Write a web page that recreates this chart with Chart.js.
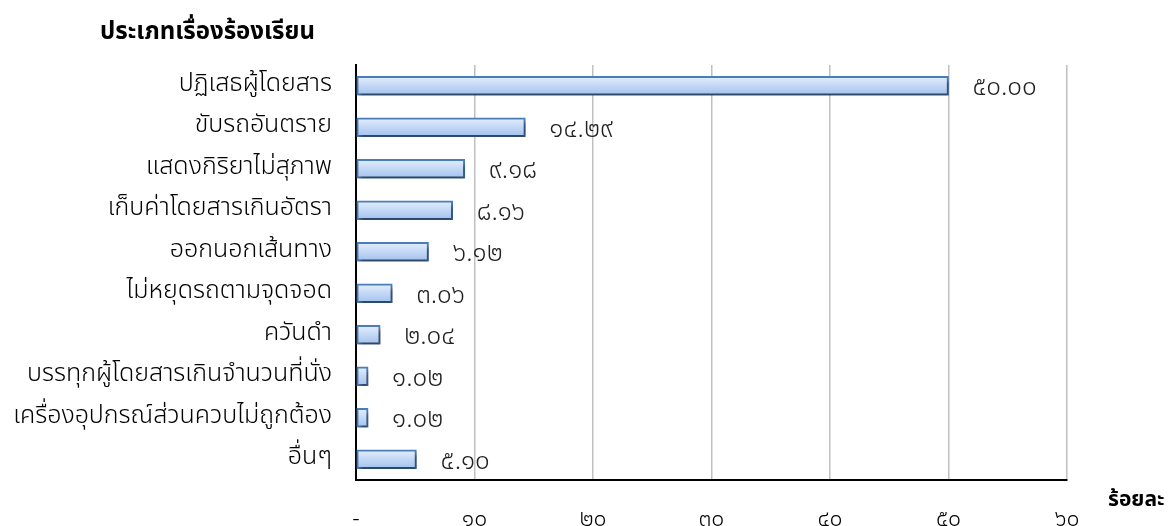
<!DOCTYPE html>
<html>
<head>
<meta charset="utf-8">
<script src="https://cdn.jsdelivr.net/npm/chart.js@4/dist/chart.umd.min.js"></script>
<style>
  html, body { margin: 0; padding: 0; background: #fff; }
  #wrap { width: 1176px; height: 526px; }
</style>
</head>
<body>
<div id="wrap"><canvas id="complaintChart" width="1176" height="526"></canvas></div>
<script>
'use strict';

const categories = [
    'ปฏิเสธผู้โดยสาร',
    'ขับรถอันตราย',
    'แสดงกิริยาไม่สุภาพ',
    'เก็บค่าโดยสารเกินอัตรา',
    'ออกนอกเส้นทาง',
    'ไม่หยุดรถตามจุดจอด',
    'ควันดำ',
    'บรรทุกผู้โดยสารเกินจำนวนที่นั่ง',
    'เครื่องอุปกรณ์ส่วนควบไม่ถูกต้อง',
    'อื่นๆ'
];
const percentValues = [50.00, 14.29, 9.18, 8.16, 6.12, 3.06, 2.04, 1.02, 1.02, 5.10];
const axisTicks = [0, 10, 20, 30, 40, 50, 60];
const yTitle = 'ประเภทเรื่องร้องเรียน';
const xTitle = 'ร้อยละ';

const thaiFont = '"Noto Sans Thai", "Noto Sans", sans-serif';
const thaiDigits = ['๐', '๑', '๒', '๓', '๔', '๕', '๖', '๗', '๘', '๙'];

const toThai = function (str) {
    return String(str).replace(/[0-9]/g, function (d) { return thaiDigits[+d]; });
};

const barFill = function (c) {
    const chart = c.chart;
    const yScale = chart.scales.y;
    if (!yScale || !chart.chartArea) return '#c5daf6';
    const mid = yScale.getPixelForValue(c.dataIndex);
    const g = chart.ctx.createLinearGradient(0, mid - 9, 0, mid + 9);
    g.addColorStop(0, '#e4eefc');
    g.addColorStop(0.45, '#c6daf6');
    g.addColorStop(1, '#a4c2ee');
    return g;
};

const barShadow = {
    id: 'barShadow',
    beforeDatasetDraw: function (chart) {
        const ctx = chart.ctx;
        ctx.save();
        ctx.shadowColor = 'rgba(0,0,0,0.45)';
        ctx.shadowBlur = 4;
        ctx.shadowOffsetX = 2;
        ctx.shadowOffsetY = 4;
    },
    afterDatasetDraw: function (chart) {
        chart.ctx.restore();
    }
};

const valueLabels = {
    id: 'valueLabels',
    afterDatasetsDraw: function (chart) {
        const ctx = chart.ctx;
        const meta = chart.getDatasetMeta(0);
        ctx.save();
        ctx.font = '300 26px ' + thaiFont;
        ctx.fillStyle = '#222';
        ctx.textAlign = 'left';
        ctx.textBaseline = 'middle';
        meta.data.forEach(function (bar, i) {
            ctx.fillText(toThai(percentValues[i].toFixed(2)), bar.x + 24, bar.y + 4);
        });
        ctx.restore();
    }
};

const axisTitles = {
    id: 'axisTitles',
    afterDraw: function (chart) {
        const ctx = chart.ctx;
        ctx.save();
        ctx.fillStyle = '#000';
        ctx.textBaseline = 'middle';
        ctx.font = 'bold 24px ' + thaiFont;
        ctx.textAlign = 'left';
        ctx.fillText(yTitle, 100, 34);
        ctx.font = 'bold 21px ' + thaiFont;
        ctx.fillText(xTitle, chart.chartArea.right + 41, 502);
        ctx.restore();
    }
};

const chartCtx = document.getElementById('complaintChart').getContext('2d');
const complaintChart = new Chart(chartCtx, {
    type: 'bar',
    data: {
        labels: categories,
        datasets: [{
            label: xTitle,
            data: percentValues,
            backgroundColor: barFill,
            borderColor: '#4a7ebb',
            borderWidth: 2,
            borderSkipped: false,
            barThickness: 19
        }]
    },
    plugins: [barShadow, valueLabels, axisTitles],
    options: {
        indexAxis: 'y',
        responsive: false,
        animation: false,
        layout: {
            padding: { top: 65, right: 109, left: 0, bottom: 0 }
        },
        plugins: {
            legend: { display: false },
            tooltip: { enabled: false }
        },
        scales: {
            x: {
                min: axisTicks[0],
                max: axisTicks[axisTicks.length - 1],
                afterBuildTicks: function (scale) {
                    scale.ticks = axisTicks.map(function (v) { return { value: v }; });
                },
                afterFit: function (scale) { scale.height = 46; },
                border: { display: true, color: '#000', width: 2 },
                grid: {
                    color: function (c) { return c.tick && c.tick.value === 0 ? 'rgba(0,0,0,0)' : '#c0c0c0'; },
                    lineWidth: 1.5,
                    drawTicks: false
                },
                ticks: {
                    padding: 28,
                    color: '#000',
                    font: { size: 23, weight: 300, family: thaiFont },
                    callback: function (v) { return v === 0 ? '-' : toThai(v); }
                }
            },
            y: {
                afterFit: function (scale) { scale.width = 356; },
                border: { display: true, color: '#000', width: 2 },
                grid: { display: false, drawTicks: false },
                ticks: {
                    padding: 24,
                    color: '#000',
                    font: { size: 25, weight: 300, family: thaiFont }
                }
            }
        }
    }
});
</script>
</body>
</html>
